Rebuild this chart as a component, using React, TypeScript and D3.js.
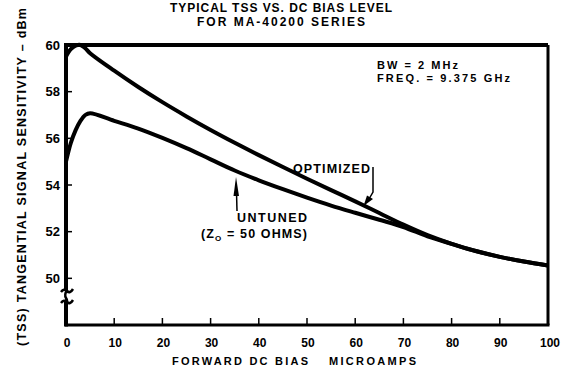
import React from "react";
import * as d3 from "d3";

// forward bias (microamps) and TSS (-dBm)
const bias = [0, 1, 2, 3, 4, 5, 10, 15, 20, 25, 30, 35, 40, 45, 50, 55, 60, 65, 70, 75, 80, 85, 90, 95, 100];
const optimized = [59.5, 59.82, 59.97, 60.0, 59.86, 59.65, 58.9, 58.2, 57.55, 56.94, 56.36, 55.81, 55.28, 54.77, 54.27, 53.78, 53.3, 52.8, 52.3, 51.85, 51.48, 51.17, 50.92, 50.72, 50.55];
const untuned = [55.0, 55.8, 56.35, 56.75, 57.0, 57.08, 56.75, 56.42, 56.02, 55.58, 55.1, 54.62, 54.2, 53.82, 53.46, 53.12, 52.81, 52.51, 52.2, 51.8, 51.48, 51.17, 50.92, 50.72, 50.55];

const xTicks = [0, 10, 20, 30, 40, 50, 60, 70, 80, 90, 100];
const yTicks = [50, 52, 54, 56, 58, 60];

const font = "'Liberation Sans', Arial, sans-serif";

function TssChart() {
  const x = d3.scaleLinear().domain([0, 100]).range([66, 548]);
  const y = d3.scaleLinear().domain([48, 60]).range([325, 45]);

  const line = d3
    .line<number>()
    .x((d, i) => x(bias[i]))
    .y(d => y(d))
    .curve(d3.curveCatmullRom.alpha(0.5));

  const axisX = x(0);
  const breakA = 291;
  const breakB = 302;

  return (
    <svg width={562} height={367} style={{ position: "absolute", left: 0, top: 0, background: "#fff" }}>
      {/* title */}
      <g fontFamily={font} fontWeight="bold" fontSize={12} fill="#000" textAnchor="start">
        <text x={170} y={11.5} textLength={222} lengthAdjust="spacing">TYPICAL TSS VS. DC BIAS LEVEL</text>
        <text x={197} y={25.5} textLength={168} lengthAdjust="spacing">FOR MA-40200 SERIES</text>
      </g>

      {/* y axis title */}
      <text
        transform={`translate(26, 177) rotate(-90)`}
        textAnchor="middle"
        fontFamily={font}
        fontWeight="bold"
        fontSize={12.5}
        textLength={338}
        lengthAdjust="spacing"
      >
        (TSS) TANGENTIAL SIGNAL SENSITIVITY – dBm
      </text>

      {/* frame */}
      <line x1={axisX} x2={x(100)} y1={y(60)} y2={y(60)} stroke="#000" strokeWidth={4} />
      <line x1={x(100)} x2={x(100)} y1={y(60)} y2={y(48)} stroke="#000" strokeWidth={3} />
      <line x1={axisX - 1} x2={x(100) + 1.5} y1={y(48)} y2={y(48)} stroke="#000" strokeWidth={3} />
      <line x1={axisX} x2={axisX} y1={y(60) - 2} y2={breakA} stroke="#000" strokeWidth={4} />
      <line x1={axisX} x2={axisX} y1={breakB} y2={y(48) + 1.5} stroke="#000" strokeWidth={4} />
      <path
        d={`M${axisX - 5},${breakA + 1} q3,-4 6,-1 t6,-2 M${axisX + 1},${breakA - 1} q-3,5 -1,8 t0,5 M${axisX - 5},${breakB + 1} q3,-4 6,-1 t6,-2`}
        fill="none"
        stroke="#000"
        strokeWidth={2.5}
      />

      {/* y ticks */}
      <g fontFamily={font} fontWeight="bold" fontSize={13} textAnchor="end">
        {yTicks.map(t => (
          <g key={t}>
            {t !== 60 && <line x1={axisX} x2={axisX + 6} y1={y(t)} y2={y(t)} stroke="#000" strokeWidth={1.5} />}
            <text x={60} y={y(t)} dy="0.36em">{t}</text>
          </g>
        ))}
      </g>

      {/* x ticks */}
      <g fontFamily={font} fontWeight="bold" fontSize={12} textAnchor="middle">
        {xTicks.map(t => (
          <g key={t}>
            {t > 0 && t < 100 && <line x1={x(t)} x2={x(t)} y1={y(48)} y2={y(48) - 7} stroke="#000" strokeWidth={1.5} />}
            <text x={t === 100 ? x(t) + 2 : x(t) + 1} y={347}>{t}</text>
          </g>
        ))}
      </g>
      <g fontFamily={font} fontWeight="bold" fontSize={11}>
        <text x={172} y={365} textLength={136} lengthAdjust="spacing">FORWARD DC BIAS</text>
        <text x={329} y={365} textLength={87} lengthAdjust="spacing">MICROAMPS</text>
      </g>

      {/* curves */}
      <path d={line(untuned) || ""} fill="none" stroke="#000" strokeWidth={4} strokeLinejoin="round" />
      <path d={line(optimized) || ""} fill="none" stroke="#000" strokeWidth={4} strokeLinejoin="round" />

      {/* notes */}
      <g fontFamily={font} fontWeight="bold" fontSize={11}>
        <text x={377} y={69} textLength={81} lengthAdjust="spacing">BW = 2 MHz</text>
        <text x={377} y={82} textLength={133} lengthAdjust="spacing">FREQ. = 9.375 GHz</text>
      </g>
      <g fontFamily={font} fontWeight="bold" fontSize={12.5}>
        <text x={293} y={173} textLength={77} lengthAdjust="spacing">OPTIMIZED</text>
        <text x={237} y={222} textLength={70} lengthAdjust="spacing">UNTUNED</text>
        <text x={201} y={238} textLength={106} lengthAdjust="spacing">
          (Z<tspan fontSize={8} dy={3}>O</tspan><tspan dy={-3}> = 50 OHMS)</tspan>
        </text>
      </g>

      {/* optimized arrow */}
      <path d="M373,167 L373,192 L369,199" fill="none" stroke="#000" strokeWidth={1.5} />
      <path d="M363.5,206 L367,195.5 L373,199 Z" fill="#000" />

      {/* untuned arrow */}
      <line x1={237} x2={236.5} y1={211} y2={192} stroke="#000" strokeWidth={1.5} />
      <path d="M236,177 L239,196 L233.5,196 Z" fill="#000" />
    </svg>
  );
}

export default function App() {
  return <TssChart />;
}
